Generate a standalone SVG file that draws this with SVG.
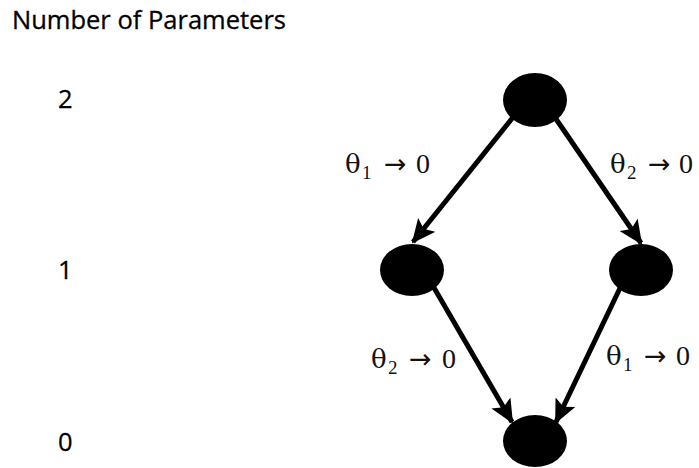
<svg xmlns="http://www.w3.org/2000/svg" width="699" height="468" viewBox="0 0 699 468">
<style>
.t{font-family:"Open Sans","Liberation Sans",sans-serif;font-size:25.5px;fill:#000;stroke:#000;stroke-width:0.3}
.m{font-family:"Liberation Serif","DejaVu Serif",serif;font-size:28px;fill:#111}
.th{font-family:"DejaVu Serif",serif;font-size:26px}
.s{font-size:19px}
.a{font-family:"DejaVu Sans",sans-serif;font-size:27px}
.e{fill:#000}
.c{stroke:#000;stroke-width:5;fill:none;marker-end:url(#ah)}
</style>
<defs>
<marker id="ah" markerUnits="userSpaceOnUse" markerWidth="24" markerHeight="22" viewBox="0 0 24 22" refX="22" refY="11" orient="auto">
<path d="M0,0 L24,11 L0,22 L5,11 Z" fill="#000"/>
</marker>
</defs>
<text class="t" x="12" y="29">Number of Parameters</text>
<text class="t" x="58" y="108">2</text>
<text class="t" x="58" y="279">1</text>
<text class="t" x="58" y="451">0</text>
<g id="connectors">
<line class="c" x1="514" y1="116" x2="413" y2="242"/>
<line class="c" x1="554" y1="116" x2="641" y2="243"/>
<line class="c" x1="433" y1="286" x2="512" y2="422"/>
<line class="c" x1="621" y1="286" x2="556" y2="422"/>
</g>
<g id="n2"><ellipse class="e" cx="535" cy="100" rx="32" ry="27"/></g>
<g id="n1a"><ellipse class="e" cx="412" cy="270" rx="32" ry="26"/></g>
<g id="n1b"><ellipse class="e" cx="641" cy="270" rx="32" ry="26"/></g>
<g id="n0"><ellipse class="e" cx="535" cy="441" rx="32" ry="26"/></g>
<text class="m" x="345" y="173"><tspan class="th">θ</tspan><tspan class="s" x="362" y="179">1</tspan><tspan class="a" x="384" y="173">→</tspan><tspan x="416" y="173">0</tspan></text>
<text class="m" x="610" y="173"><tspan class="th">θ</tspan><tspan class="s" x="627" y="179">2</tspan><tspan class="a" x="648" y="173">→</tspan><tspan x="679" y="173">0</tspan></text>
<text class="m" x="371" y="368"><tspan class="th">θ</tspan><tspan class="s" x="388" y="374">2</tspan><tspan class="a" x="409" y="368">→</tspan><tspan x="442" y="368">0</tspan></text>
<text class="m" x="606" y="365"><tspan class="th">θ</tspan><tspan class="s" x="623" y="371">1</tspan><tspan class="a" x="644" y="365">→</tspan><tspan x="676" y="365">0</tspan></text>
</svg>
